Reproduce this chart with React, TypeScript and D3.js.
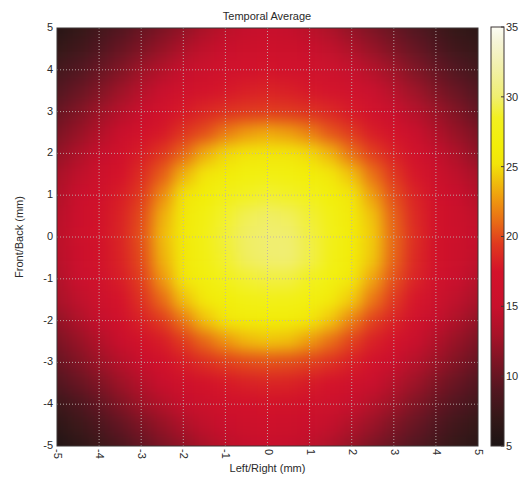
import React from "react";
import * as d3 from "d3";

// Sample positions of the measurement grid (mm)
const xPositions = [-5, -4.5, -4, -3.5, -3, -2.5, -2, -1.5, -1, -0.5, 0, 0.5, 1, 1.5, 2, 2.5, 3, 3.5, 4, 4.5, 5];
const yPositions = [5, 4.5, 4, 3.5, 3, 2.5, 2, 1.5, 1, 0.5, 0, -0.5, -1, -1.5, -2, -2.5, -3, -3.5, -4, -4.5, -5];

// Temporal average intensity, one row per Front/Back position (top row = +5 mm)
const temporalAverage = [
  [6, 7, 8, 9, 10, 11, 12, 13.2, 14.2, 14.8, 15, 14.8, 14.2, 13.2, 12, 11, 10, 9, 8, 7, 6.5],
  [7, 7.8, 8.9, 10, 11.1, 12.2, 13.4, 14.5, 15.3, 15.8, 16, 15.8, 15.3, 14.5, 13.4, 12.2, 11.1, 10, 8.9, 7.8, 7.2],
  [8, 8.9, 10, 11.2, 12.5, 13.7, 14.8, 15.7, 16.4, 16.8, 17, 16.8, 16.4, 15.7, 14.8, 13.7, 12.5, 11.2, 10, 8.9, 8],
  [9, 10, 11.2, 12.5, 13.8, 15.1, 16.2, 17.1, 17.7, 18.1, 18.3, 18.1, 17.7, 17.1, 16.2, 15.1, 13.8, 12.5, 11.2, 10, 9],
  [10, 11.2, 12.5, 13.8, 15, 16.6, 17.8, 18.5, 19, 19.4, 19.5, 19.4, 19, 18.5, 17.8, 16.6, 15, 13.8, 12.5, 11.2, 9.8],
  [11, 12.2, 13.6, 15.2, 16.8, 17.8, 19.2, 20.1, 21.6, 22.7, 23.2, 22.8, 21.8, 20.3, 19.4, 18, 17, 15.3, 13.6, 12.2, 11],
  [12, 13.4, 14.8, 16.5, 18, 19.3, 20.9, 23.4, 24.8, 25.3, 25.5, 25.4, 24.9, 23.6, 21.2, 19.6, 18.2, 16.6, 14.8, 13.4, 11.8],
  [13, 14.4, 15.8, 17.4, 18.8, 20.6, 23.6, 25.3, 26.3, 27, 27.3, 27.1, 26.5, 25.5, 24, 21.2, 19.3, 17.7, 15.8, 14.4, 13],
  [13.5, 15.2, 16.5, 18, 19.5, 22.2, 25.2, 26.5, 27.8, 28.5, 28.8, 28.6, 28, 26.7, 25.5, 22.8, 20.1, 18.3, 16.6, 15.2, 13.8],
  [14, 15.6, 16.9, 18.3, 20, 23.4, 25.8, 27.3, 28.7, 29.5, 29.8, 29.6, 28.9, 27.5, 26, 24, 20.7, 18.6, 17, 15.7, 14.5],
  [14.2, 15.8, 17, 18.4, 20.2, 23.8, 26, 27.6, 29, 29.8, 30, 30, 29.2, 27.8, 26.2, 24.3, 20.9, 18.8, 17.1, 15.9, 14.8],
  [14, 15.6, 16.9, 18.3, 20, 23.5, 25.9, 27.4, 28.8, 29.7, 30, 30.1, 29.3, 27.7, 26.2, 24.2, 20.8, 18.6, 17, 15.7, 14.5],
  [13.5, 15.2, 16.5, 18, 19.6, 22.6, 25.4, 26.8, 28, 28.8, 29.1, 29.1, 28.3, 27, 25.7, 23, 20.2, 18.3, 16.6, 15.2, 13.8],
  [13, 14.4, 15.8, 17.4, 19, 21, 24, 25.8, 26.7, 27.4, 27.7, 27.6, 27, 25.9, 24.3, 21.4, 19.4, 17.6, 15.8, 14.4, 13],
  [12, 13.4, 14.8, 16.5, 18.2, 19.5, 21.5, 24, 25.5, 26.1, 26.3, 26.2, 25.6, 24.1, 21.8, 19.7, 18.3, 16.5, 14.8, 13.4, 12],
  [11, 12.2, 13.6, 15.2, 16.9, 18, 19.5, 20.9, 22.5, 23.7, 24.1, 23.9, 22.7, 21.1, 19.7, 18.2, 17, 15.2, 13.6, 12.2, 11],
  [10, 11.2, 12.5, 13.8, 15, 16.7, 18, 18.9, 19.6, 20, 20.2, 20.1, 19.7, 19, 18.1, 16.8, 15.2, 13.8, 12.5, 11.2, 10],
  [9, 10, 11.2, 12.5, 13.8, 15.1, 16.2, 17.1, 17.8, 18.2, 18.4, 18.3, 17.9, 17.2, 16.3, 15.2, 13.8, 12.5, 11.2, 10, 9],
  [7.5, 8.6, 9.8, 11.2, 12.5, 13.7, 14.8, 15.7, 16.4, 16.8, 17, 16.9, 16.5, 15.8, 14.9, 13.7, 12.5, 11.2, 10, 8.9, 8],
  [6.5, 7.5, 8.6, 9.8, 11, 12.2, 13.4, 14.5, 15.3, 15.8, 16, 15.9, 15.4, 14.6, 13.5, 12.3, 11.1, 10, 8.9, 7.8, 7],
  [5.5, 6.5, 7.5, 8.6, 9.8, 11, 12, 13.2, 14.2, 14.8, 15, 14.9, 14.4, 13.4, 12.2, 11, 10, 9, 8, 7, 6.3],
];

const axisTicks = [-5, -4, -3, -2, -1, 0, 1, 2, 3, 4, 5];
const gridTicks = [-4, -3, -2, -1, 0, 1, 2, 3, 4];
const colorbarTicks = [5, 10, 15, 20, 25, 30, 35];

// Heat colormap: value -> colour
const colorStopValues = [5, 7, 9, 11, 13, 15, 17.5, 19.5, 21, 22.5, 24, 25.2, 26.5, 28.5, 30, 32, 34, 35];
const colorStopColors = [
  "#1c1414", "#341818", "#521620", "#7c1424", "#a81228", "#c8102c", "#d4122a",
  "#e03a1e", "#e86a16", "#ee9410", "#f0c00c", "#f2e40a", "#f2ee08", "#f2f020",
  "#f0ee70", "#f2f0a8", "#f6f4d8", "#fcfcf4",
];

const FONT = "'Liberation Sans', Arial, sans-serif";
const TEXT = "#2a2a2a";

export default function App() {
  const plot = { left: 57, top: 28, right: 478, bottom: 446 };
  const bar = { left: 491, right: 504, top: 27, bottom: 446 };

  const x = d3.scaleLinear().domain([-5, 5]).range([plot.left, plot.right]);
  const y = d3.scaleLinear().domain([-5, 5]).range([plot.bottom, plot.top]);
  const color = d3
    .scaleLinear<string>()
    .domain(colorStopValues)
    .range(colorStopColors)
    .interpolate(d3.interpolateRgb)
    .clamp(true);
  const cbScale = d3.scaleLinear().domain([5, 35]).range([bar.bottom, bar.top]);

  const half = 0.25;
  const nx = xPositions.length;
  const ny = yPositions.length;

  const cells: { key: string; x: number; y: number; w: number; h: number; fill: string }[] = [];
  temporalAverage.forEach((row, j) => {
    const yv = yPositions[j];
    const yTop = j === 0 ? y(6) : y(yv + half);
    const yBot = j === ny - 1 ? y(-6) : y(yv - half);
    row.forEach((v, i) => {
      const xv = xPositions[i];
      const xL = i === 0 ? x(-6) : x(xv - half);
      const xR = i === nx - 1 ? x(6) : x(xv + half);
      cells.push({
        key: `${i}-${j}`,
        x: xL,
        y: yTop,
        w: xR - xL + 0.5,
        h: yBot - yTop + 0.5,
        fill: color(v),
      });
    });
  });

  return (
    <svg
      width={520}
      height={477}
      viewBox="0 0 520 477"
      style={{ position: "absolute", left: 0, top: 0, background: "#ffffff" }}
      fontFamily={FONT}
    >
      <defs>
        <clipPath id="plotClip">
          <rect
            x={plot.left}
            y={plot.top}
            width={plot.right - plot.left}
            height={plot.bottom - plot.top}
          />
        </clipPath>
        <filter
          id="smooth"
          filterUnits="userSpaceOnUse"
          x={x(-6) - 20}
          y={y(6) - 20}
          width={x(6) - x(-6) + 40}
          height={y(-6) - y(6) + 40}
          colorInterpolationFilters="sRGB"
        >
          <feGaussianBlur stdDeviation={7.5} edgeMode="duplicate" />
        </filter>
        <linearGradient id="cbGrad" gradientUnits="userSpaceOnUse" x1={0} x2={0} y1={bar.bottom} y2={bar.top}>
          {colorStopValues.map((v, i) => (
            <stop
              key={i}
              offset={(bar.bottom - cbScale(v)) / (bar.bottom - bar.top)}
              stopColor={colorStopColors[i]}
            />
          ))}
        </linearGradient>
      </defs>

      <rect x={0} y={0} width={520} height={477} fill="#ffffff" />

      {/* Title */}
      <text x={267} y={20} textAnchor="middle" fontSize={11} fill={TEXT}>
        Temporal Average
      </text>

      {/* Intensity map */}
      <g clipPath="url(#plotClip)">
        <g filter="url(#smooth)">
          {cells.map((c) => (
            <rect key={c.key} x={c.x} y={c.y} width={c.w} height={c.h} fill={c.fill} />
          ))}
        </g>
      </g>

      {/* Dotted grid */}
      <g stroke="#bcb2ae" strokeWidth={1} strokeDasharray="1 2" opacity={0.9}>
        {gridTicks.map((t) => (
          <line key={`gx${t}`} x1={x(t)} x2={x(t)} y1={plot.top} y2={plot.bottom} />
        ))}
        {gridTicks.map((t) => (
          <line key={`gy${t}`} x1={plot.left} x2={plot.right} y1={y(t)} y2={y(t)} />
        ))}
      </g>

      {/* Frame */}
      <rect
        x={plot.left}
        y={plot.top}
        width={plot.right - plot.left}
        height={plot.bottom - plot.top}
        fill="none"
        stroke="#3c3434"
        strokeWidth={1}
      />

      {/* Y axis ticks */}
      {axisTicks.map((t) => (
        <text
          key={`yt${t}`}
          x={53}
          y={y(t)}
          textAnchor="end"
          dominantBaseline="middle"
          fontSize={11}
          fill={TEXT}
        >
          {t}
        </text>
      ))}

      {/* X axis ticks, rotated */}
      {axisTicks.map((t) => (
        <text
          key={`xt${t}`}
          transform={`translate(${x(t)},449) rotate(90)`}
          textAnchor="start"
          dominantBaseline="middle"
          fontSize={11}
          fill={TEXT}
        >
          {t}
        </text>
      ))}

      {/* Axis titles */}
      <text x={x(0)} y={472} textAnchor="middle" fontSize={11} fill={TEXT}>
        Left/Right (mm)
      </text>
      <text
        transform={`translate(23,${y(0)}) rotate(-90)`}
        textAnchor="middle"
        fontSize={11}
        fill={TEXT}
      >
        Front/Back (mm)
      </text>

      {/* Colorbar */}
      <rect
        x={bar.left}
        y={bar.top}
        width={bar.right - bar.left}
        height={bar.bottom - bar.top}
        fill="url(#cbGrad)"
        stroke="#3c3434"
        strokeWidth={1}
      />
      {colorbarTicks.map((t) => (
        <g key={`cb${t}`}>
          <line x1={bar.right - 3} x2={bar.right} y1={cbScale(t)} y2={cbScale(t)} stroke="#3c3434" />
          <text
            x={bar.right + 2}
            y={cbScale(t) + 1}
            dominantBaseline="middle"
            fontSize={11}
            fill={TEXT}
          >
            {t}
          </text>
        </g>
      ))}
    </svg>
  );
}
